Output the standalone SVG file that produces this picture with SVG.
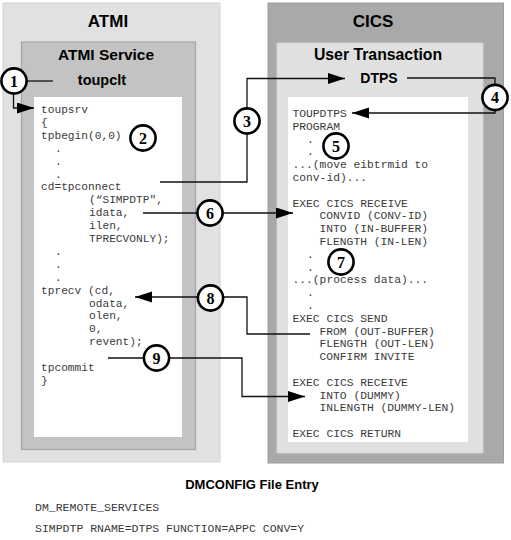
<svg xmlns="http://www.w3.org/2000/svg" width="511" height="540" viewBox="0 0 511 540">
<style>
.title{font-family:"Liberation Sans",Arial,sans-serif;font-weight:bold;fill:#000;text-anchor:middle}
.code{font-family:"Liberation Mono","Courier New",monospace;font-size:11.2px;fill:#3a3a3a}
.cics{font-family:"Liberation Mono","Courier New",monospace;font-size:11.3px;fill:#3a3a3a}
.cfg{font-family:"Liberation Mono","Courier New",monospace;font-size:11.5px;fill:#3a3a3a}
.num circle{fill:#fff;stroke:#000;stroke-width:2.6}
.num text{font-family:"Liberation Serif","Times New Roman",serif;font-weight:bold;font-size:16px;text-anchor:middle;fill:#000}
.conn{fill:none;stroke:#111;stroke-width:1.3}
</style>
<defs>
<marker id="ah" markerUnits="userSpaceOnUse" markerWidth="18" markerHeight="12" refX="17" refY="5.5" orient="auto">
<path d="M0,0 L17,5.5 L0,11 Z" fill="#000"/>
</marker>
</defs>
<rect width="511" height="540" fill="#fff"/>

<g id="atmi">
<rect x="3" y="3" width="217" height="459" fill="#e1e1e1" stroke="#d4d4d4"/>
<text class="title" x="108" y="27" font-size="17">ATMI</text>
</g>
<g id="atmi-service">
<rect x="21.5" y="42" width="174" height="407.5" fill="#c3c3c3" stroke="#a6a6a6" stroke-width="1.2"/>
<text class="title" x="106" y="60" font-size="15.5">ATMI Service</text>
<text class="title" x="102" y="85" font-size="14.5">toupclt</text>
<rect x="34" y="97" width="148" height="340" fill="#fff"/>
</g>
<g id="atmi-code">
<text class="code" x="41" y="113">toupsrv</text>
<text class="code" x="41" y="125.9">{</text>
<text class="code" x="41" y="138.8">tpbegin(0,0)</text>
<text class="code" x="55" y="151.7">.</text>
<text class="code" x="55" y="164.6">.</text>
<text class="code" x="55" y="177.5">.</text>
<text class="code" x="41" y="190.4">cd=tpconnect</text>
<text class="code" x="89" y="203.3">(“SIMPDTP",</text>
<text class="code" x="89" y="216.2">idata,</text>
<text class="code" x="89" y="229.1">ilen,</text>
<text class="code" x="89" y="242">TPRECVONLY);</text>
<text class="code" x="55" y="254.9">.</text>
<text class="code" x="55" y="267.8">.</text>
<text class="code" x="55" y="280.7">.</text>
<text class="code" x="41" y="293.6">tprecv (cd,</text>
<text class="code" x="89" y="306.5">odata,</text>
<text class="code" x="89" y="319.4">olen,</text>
<text class="code" x="89" y="332.3">0,</text>
<text class="code" x="89" y="345.2">revent);</text>
<text class="code" x="41" y="371">tpcommit</text>
<text class="code" x="41" y="383.9">}</text>
</g>

<g id="cics">
<rect x="268" y="3" width="235.5" height="460" fill="#a9a9a9" stroke="#9c9c9c"/>
<text class="title" x="373" y="27" font-size="17">CICS</text>
</g>
<g id="user-transaction">
<rect x="277" y="43" width="206" height="410" fill="#e0e0e0" stroke="#d2d2d2"/>
<text class="title" x="378" y="60" font-size="15.8">User Transaction</text>
<text class="title" x="379" y="83" font-size="14">DTPS</text>
<rect x="288" y="97" width="180" height="345" fill="#fff"/>
</g>
<g id="cics-code">
<text class="cics" x="292.5" y="117">TOUPDTPS</text>
<text class="cics" x="292.5" y="129.8">PROGRAM</text>
<text class="cics" x="307" y="142.6">.</text>
<text class="cics" x="307" y="155.4">.</text>
<text class="cics" x="292.5" y="168.2">...(move eibtrmid to</text>
<text class="cics" x="292.5" y="181">conv-id)...</text>
<text class="cics" x="292.5" y="206.6">EXEC CICS RECEIVE</text>
<text class="cics" x="319.5" y="219.4">CONVID (CONV-ID)</text>
<text class="cics" x="319.5" y="232.2">INTO (IN-BUFFER)</text>
<text class="cics" x="319.5" y="245">FLENGTH (IN-LEN)</text>
<text class="cics" x="307" y="257.8">.</text>
<text class="cics" x="307" y="270.6">.</text>
<text class="cics" x="292.5" y="283.4">...(process data)...</text>
<text class="cics" x="307" y="296.2">.</text>
<text class="cics" x="307" y="309">.</text>
<text class="cics" x="292.5" y="321.8">EXEC CICS SEND</text>
<text class="cics" x="319.5" y="334.6">FROM (OUT-BUFFER)</text>
<text class="cics" x="319.5" y="347.4">FLENGTH (OUT-LEN)</text>
<text class="cics" x="319.5" y="360.2">CONFIRM INVITE</text>
<text class="cics" x="292.5" y="385.8">EXEC CICS RECEIVE</text>
<text class="cics" x="319.5" y="398.6">INTO (DUMMY)</text>
<text class="cics" x="319.5" y="411.4">INLENGTH (DUMMY-LEN)</text>
<text class="cics" x="292.5" y="437">EXEC CICS RETURN</text>
</g>

<g id="connectors">
<path class="conn" d="M27,81 H53"/>
<path class="conn" d="M13.5,94 V108 H34" marker-end="url(#ah)"/>
<path class="conn" d="M160,182 H247 V133.5"/>
<path class="conn" d="M247,108.5 V78.5 H345" marker-end="url(#ah)"/>
<path class="conn" d="M407,78 H495 V84.5"/>
<path class="conn" d="M495,110 V113 H352" marker-end="url(#ah)"/>
<path class="conn" d="M143,213 H197.5"/>
<path class="conn" d="M222.5,213 H293" marker-end="url(#ah)"/>
<path class="conn" d="M198,297 H135" marker-end="url(#ah)"/>
<path class="conn" d="M223,297 H247 V334 H310"/>
<path class="conn" d="M108,358 H144"/>
<path class="conn" d="M169,358 H242 V396.5 H305" marker-end="url(#ah)"/>
</g>

<g id="n1" class="num"><circle cx="14" cy="81" r="12.6"/><text x="14" y="86.5">1</text></g>
<g id="n2" class="num"><circle cx="143" cy="138" r="12.6"/><text x="143" y="143.5">2</text></g>
<g id="n3" class="num"><circle cx="247" cy="121" r="12.6"/><text x="247" y="126.5">3</text></g>
<g id="n4" class="num"><circle cx="495" cy="97.5" r="12.6"/><text x="495" y="103">4</text></g>
<g id="n5" class="num"><circle cx="336" cy="146" r="12.6"/><text x="336" y="151.5">5</text></g>
<g id="n6" class="num"><circle cx="210" cy="213" r="12.6"/><text x="210" y="218.5">6</text></g>
<g id="n7" class="num"><circle cx="341" cy="262" r="12.6"/><text x="341" y="267.5">7</text></g>
<g id="n8" class="num"><circle cx="210.5" cy="298" r="12.6"/><text x="210.5" y="303.5">8</text></g>
<g id="n9" class="num"><circle cx="156.5" cy="358" r="12.6"/><text x="156.5" y="363.5">9</text></g>

<g id="dmconfig">
<text class="title" x="252" y="489" font-size="13">DMCONFIG File Entry</text>
<text class="cfg" x="35" y="510.5">DM_REMOTE_SERVICES</text>
<text class="cfg" x="35" y="532">SIMPDTP RNAME=DTPS FUNCTION=APPC CONV=Y</text>
</g>
</svg>
